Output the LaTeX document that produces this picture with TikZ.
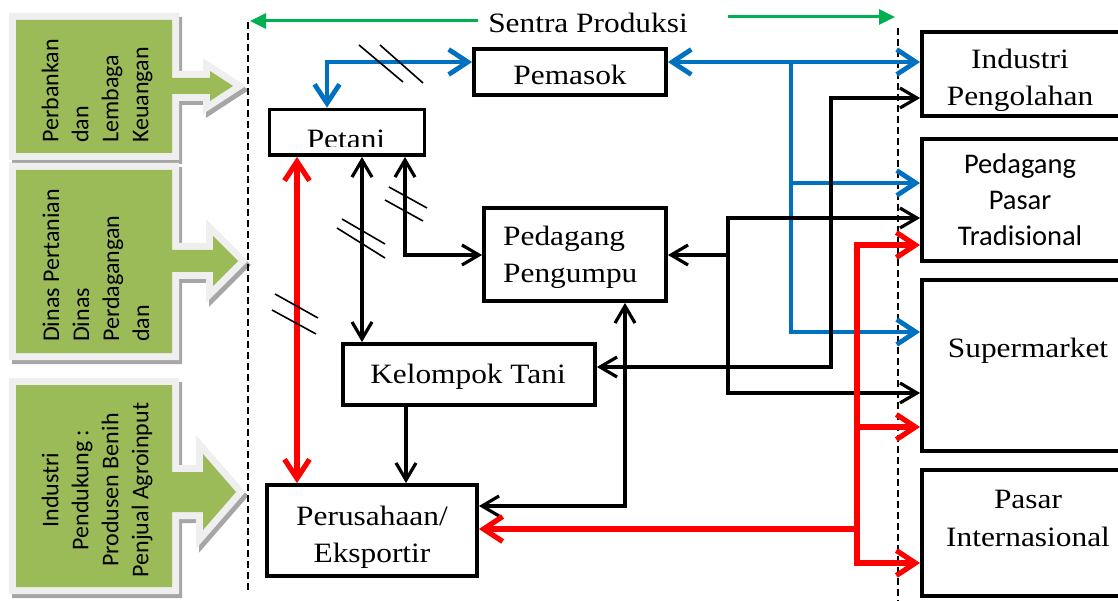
\documentclass[tikz,border=0pt]{standalone}
\usepackage{fontspec}
\setmainfont{Liberation Serif}[FakeStretch=1.12]
\newfontfamily\calibri{Carlito}
\usetikzlibrary{arrows.meta}

\definecolor{panelgreen}{HTML}{9BBB59}
\definecolor{panelrim}{HTML}{EFEFEF}
\definecolor{panelshadow}{HTML}{A6A6A6}
\definecolor{flowblue}{HTML}{0070C0}
\definecolor{flowred}{HTML}{FF0000}
\definecolor{zonegreen}{HTML}{00B050}

% outline of a side panel with its arrow:
% #1 top, #2 bottom, #3 arrow axis y, #4 shaft half height,
% #5 head base x, #6 head half height, #7 tip x
\newcommand\panelshape[7]{(16,#1) -- (172,#1) -- (172,#3-#4) -- (#5,#3-#4) -- (#5,#3-#6) -- (#7,#3) -- (#5,#3+#6) -- (#5,#3+#4) -- (172,#3+#4) -- (172,#2) -- (16,#2) -- cycle}
\newcommand\greenpanel[7]{%
  \fill[panelshadow, draw=panelshadow, line width=14pt, line join=miter, shift={(3,4)}] \panelshape{#1}{#2}{#3}{#4}{#5}{#6}{#7};
  \fill[panelrim, draw=panelrim, line width=14pt, line join=miter] \panelshape{#1}{#2}{#3}{#4}{#5}{#6}{#7};
  \fill[panelgreen] \panelshape{#1}{#2}{#3}{#4}{#5}{#6}{#7};
}

\tikzset{
  box/.style={draw, line width=3.8pt, fill=white, inner sep=0pt},
  lbl/.style={inner sep=0pt},
  paneltext/.style={font=\calibri\fontsize{24}{30}\selectfont, rotate=90, inner sep=0pt},
  blackflow/.style={line width=3.2pt, >={Straight Barb[length=17pt,width=20pt]}},
  blueflow/.style={flowblue, line width=4.8pt, >={Straight Barb[length=19pt,width=25pt]}},
  redflow/.style={flowred, line width=5.2pt, >={Straight Barb[length=19pt,width=25pt]}},
  zoneflow/.style={zonegreen, line width=3pt, >={Triangle[length=16pt,width=15pt]}},
  hatch/.style={line width=1.6pt},
  boundary/.style={line width=1.6pt, dash pattern=on 7pt off 4pt},
}

\begin{document}
\begin{tikzpicture}[x=1pt, y=-1pt, font=\fontsize{28}{37}\selectfont]
\useasboundingbox (0,0) rectangle (1118,601);
\clip (0,0) rectangle (1118,601);

% side panels
\greenpanel{20}{153}{86}{8}{210}{15}{233}
\greenpanel{170}{353}{261}{11}{213}{25}{238}
\greenpanel{385}{587}{492}{20}{203}{38}{236}
\node[paneltext, anchor=west, align=left] (bankpanel) at (97,143) {Perbankan\\dan\\Lembaga\\Keuangan};
\node[paneltext, anchor=west, align=left] (dinaspanel) at (96,342) {Dinas Pertanian\\Dinas\\Perdagangan\\dan};
\node[paneltext, anchor=center, align=center] (industripanel) at (97,490) {Industri\\Pendukung :\\Produsen Benih\\Penjual Agroinput};

% boundaries of the production centre
\draw[boundary] (248,22) -- (248,592);
\draw[boundary] (898,28) -- (898,601);

% boxes
\node[box, minimum width=192pt, minimum height=46pt] (pemasok) at (570,72) {};
\node[box, minimum width=155pt, minimum height=45.5pt] (petani) at (347,132.3) {};
\node[box, minimum width=182pt, minimum height=93pt] (pengumpul) at (575,254.5) {};
\node[box, minimum width=252pt, minimum height=61pt] (kelompok) at (469,374.5) {};
\node[box, minimum width=210pt, minimum height=91pt] (eksportir) at (372,530.5) {};
\node[box, minimum width=200pt, minimum height=84pt] (industri) at (1022,74) {};
\node[box, minimum width=200pt, minimum height=122pt] (tradisional) at (1022,200) {};
\node[box, minimum width=216pt, minimum height=171pt] (supermarket) at (1030,365.5) {};
\node[box, minimum width=216pt, minimum height=126pt] (internasional) at (1030,533) {};

% labels
\node[lbl, anchor=base] (sentra) at (588,33) {Sentra Produksi};
\node[lbl, anchor=base] (pemasoklbl) at (570,85) {Pemasok};
\begin{scope}
  \clip (272,112) rectangle (422,146.5);
  \node[lbl, anchor=base] (petanilbl) at (346,149) {Petani};
\end{scope}
\node[lbl, anchor=north west, align=left] (pengumpullbl) at (503,226) {Pedagang\\Pengumpu};
\node[lbl, anchor=base] (kelompoklbl) at (468,383) {Kelompok Tani};
\node[lbl, anchor=north, align=center] (eksportirlbl) at (372,506) {Perusahaan/\\Eksportir};
\node[lbl, anchor=north, align=center] (industrilbl) at (1020,49) {Industri\\Pengolahan};
\node[lbl, anchor=north, align=center, font=\calibri\fontsize{28.5}{36}\selectfont] (tradisionallbl) at (1020,154) {Pedagang\\Pasar\\Tradisional};
\node[lbl, anchor=base] (supermarketlbl) at (1028,357) {Supermarket};
\node[lbl, anchor=north, align=center, font=\fontsize{28}{38}\selectfont] (internasionallbl) at (1028,489.5) {Pasar\\Internasional};

% extent of the production centre
\coordinate (zoneL) at (250,21);
\coordinate (zoneLs) at (478,21);
\coordinate (zoneR) at (895,17);
\coordinate (zoneRs) at (728,17);
\draw[zoneflow, ->] (zoneLs) -- (zoneL);
\draw[zoneflow, ->] (zoneRs) -- (zoneR);

% junction points
\coordinate (bA) at (327,62);
\coordinate (bB) at (791,62);
\coordinate (bC) at (791,183);
\coordinate (bD) at (791,332);
\coordinate (kA) at (362,0);
\coordinate (kB) at (405,255);
\coordinate (kC) at (406,0);
\coordinate (kD) at (625,506);
\coordinate (kE) at (831,367);
\coordinate (kF) at (831,98);
\coordinate (kG) at (728,255);
\coordinate (kH) at (728,218);
\coordinate (kI) at (728,393);
\coordinate (rA) at (297,0);
\coordinate (rB) at (857,529);
\coordinate (rC) at (857,245);
\coordinate (rD) at (857,427);
\coordinate (rE) at (857,563);

% supplier flows
\draw[blueflow, <->] (pemasok.west |- bA) -- (bA) -- (bA |- petani.north);
\draw[blueflow, <->] (pemasok.east |- bB) -- (industri.west |- bB);
\draw[blueflow, ->] (bB) -- (bD) -- (supermarket.west |- bD);
\draw[blueflow, ->] (bC) -- (tradisional.west |- bC);

% producer and trader flows
\draw[blackflow, <->] (petani.south -| kA) -- (kelompok.north -| kA);
\draw[blackflow, <->] (petani.south -| kB) -- (kB) -- (pengumpul.west |- kB);
\draw[blackflow, ->] (kelompok.south -| kC) -- (eksportir.north -| kC);
\draw[blackflow, <->] (pengumpul.south -| kD) -- (kD) -- (eksportir.east |- kD);
\draw[blackflow, <->] (kelompok.east |- kE) -- (kE) -- (kF) -- (industri.west |- kF);
\draw[blackflow, ->] (kG) -- (pengumpul.east |- kG);
\draw[blackflow, ->] (kG) -- (kH) -- (tradisional.west |- kH);
\draw[blackflow, ->] (kG) -- (kI) -- (supermarket.west |- kI);

% exporter flows
\draw[redflow, <->] (petani.south -| rA) -- (eksportir.north -| rA);
\draw[redflow, ->] (rB) -- (eksportir.east |- rB);
\draw[redflow, ->] (rE) -- (rC) -- (tradisional.west |- rC);
\draw[redflow, ->] (rD) -- (supermarket.west |- rD);
\draw[redflow, ->] (rB) -- (rE) -- (internasional.west |- rE);

% break marks
\draw[hatch] (359,45) -- (403,82);
\draw[hatch] (380,45) -- (423,83);
\draw[hatch] (389,187) -- (427,208);
\draw[hatch] (385,200) -- (423,221);
\draw[hatch] (342,219) -- (385,244);
\draw[hatch] (337,228) -- (385,258);
\draw[hatch] (275,294) -- (318,318);
\draw[hatch] (272,310) -- (316,334);
\end{tikzpicture}
\end{document}
